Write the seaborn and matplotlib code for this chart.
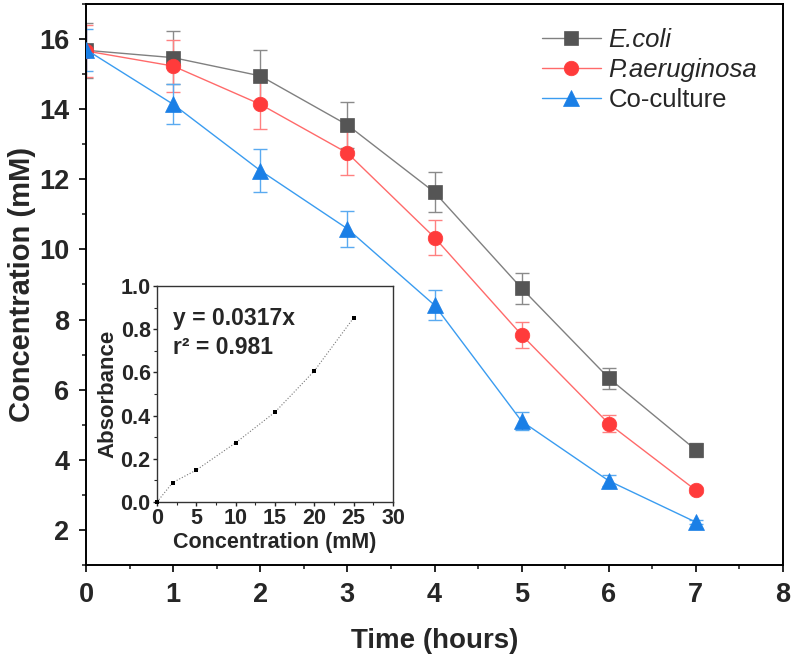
import numpy as np
import pandas as pd
import matplotlib
matplotlib.use("Agg")
import matplotlib.pyplot as plt
from matplotlib.ticker import MultipleLocator
import seaborn as sns

# main data
time = [0, 1, 2, 3, 4, 5, 6, 7]
ecoli = [15.68, 15.47, 14.95, 13.55, 11.63, 8.89, 6.33, 4.28]
ecoli_err = [0.78, 0.76, 0.73, 0.66, 0.57, 0.44, 0.30, 0.20]
paer = [15.66, 15.23, 14.14, 12.75, 10.34, 7.56, 5.03, 3.13]
paer_err = [0.75, 0.75, 0.70, 0.63, 0.51, 0.37, 0.24, 0.08]
coc = [15.70, 14.14, 12.25, 10.59, 8.41, 5.10, 3.40, 2.22]
coc_err = [0.60, 0.57, 0.60, 0.51, 0.42, 0.25, 0.16, 0.06]
names = ["E.coli", "P.aeruginosa", "Co-culture"]

# inset calibration data
conc = [0, 2, 5, 10, 15, 20, 25]
absorb = [0.0, 0.090, 0.148, 0.274, 0.416, 0.607, 0.853]

sns.set_style("ticks")
plt.rcParams["font.family"] = ["Liberation Sans", "DejaVu Sans"]
plt.rcParams["axes.linewidth"] = 1.4

fig = plt.figure(figsize=(7.92, 6.65), dpi=100)
ax = fig.add_axes([0.1086, 0.1504, 0.8801, 0.8436])

series = [
    (ecoli, ecoli_err, "s", 9.5, "#555555", "#808080", "#8a8a8a"),
    (paer, paer_err, "o", 10.5, "#ff3b3b", "#ff6a6a", "#ff8080"),
    (coc, coc_err, "^", 11, "#1a7fe6", "#3a9cf0", "#5aaaf0"),
]
for name, (vals, err, mk, ms, mc, lc, ec) in zip(names, series):
    ax.errorbar(time, vals, yerr=err, fmt="none", ecolor=ec, elinewidth=1,
                capsize=5, capthick=1, zorder=2)
    sns.lineplot(x=time, y=vals, ax=ax, color=lc, linewidth=1, marker=mk,
                 markersize=ms, markerfacecolor=mc, markeredgecolor=mc,
                 markeredgewidth=0.5, label=name, zorder=3)

ax.set_xlim(0, 8)
ax.set_ylim(1, 17)
ax.xaxis.set_major_locator(MultipleLocator(1))
ax.xaxis.set_minor_locator(MultipleLocator(0.5))
ax.yaxis.set_major_locator(MultipleLocator(2))
ax.yaxis.set_minor_locator(MultipleLocator(1))
ax.tick_params(which="major", direction="out", length=5, width=1.4,
               labelsize=19.5, pad=7)
ax.tick_params(which="minor", direction="out", length=3, width=1.2)
for lab in ax.get_xticklabels() + ax.get_yticklabels():
    lab.set_fontweight("bold")
for s in ax.spines.values():
    s.set_visible(True)
    s.set_color("black")
ax.set_xlabel("Time (hours)", fontsize=20, fontweight="bold")
ax.set_ylabel("Concentration (mM)", fontsize=21, fontweight="bold")
ax.xaxis.set_label_coords(0.5, -0.113)
ax.yaxis.set_label_coords(-0.072, 0.5)

leg = ax.legend(loc="upper right", bbox_to_anchor=(0.978, 0.975),
                borderaxespad=0, frameon=False, fontsize=18.5,
                handlelength=2.3, handletextpad=0.3, labelspacing=0.22)
for t in leg.get_texts()[:2]:
    t.set_fontstyle("italic")

# inset
ins = fig.add_axes([0.1982, 0.2451, 0.2980, 0.3248])
sns.lineplot(x=conc, y=absorb, ax=ins, color="#777777", linewidth=0.8,
             linestyle=":")
sns.scatterplot(x=conc, y=absorb, ax=ins, marker="s", s=10, color="black",
                edgecolor="black", linewidth=0, zorder=4, clip_on=False)
ins.set_xlim(0, 30)
ins.set_ylim(0, 1.0)
ins.xaxis.set_major_locator(MultipleLocator(5))
ins.xaxis.set_minor_locator(MultipleLocator(2.5))
ins.yaxis.set_major_locator(MultipleLocator(0.2))
ins.yaxis.set_minor_locator(MultipleLocator(0.1))
ins.yaxis.set_major_formatter(matplotlib.ticker.FormatStrFormatter("%.1f"))
ins.tick_params(which="major", direction="out", length=3, width=1,
                labelsize=15.5, pad=1.5)
ins.tick_params(which="minor", direction="out", length=2, width=0.8)
for lab in ins.get_xticklabels() + ins.get_yticklabels():
    lab.set_fontweight("bold")
for s in ins.spines.values():
    s.set_visible(True)
    s.set_linewidth(1)
    s.set_color("#333333")
ins.set_xlabel("Concentration (mM)", fontsize=15.5, fontweight="bold")
ins.set_ylabel("Absorbance", fontsize=16, fontweight="bold")
ins.xaxis.set_label_coords(0.5, -0.14)
ins.yaxis.set_label_coords(-0.165, 0.5)
ins.text(2, 0.82, "y = 0.0317x", fontsize=16.5, fontweight="bold")
ins.text(2, 0.685, "r\u00b2 = 0.981", fontsize=16.5, fontweight="bold")

fig.savefig("out.png", dpi=100)
